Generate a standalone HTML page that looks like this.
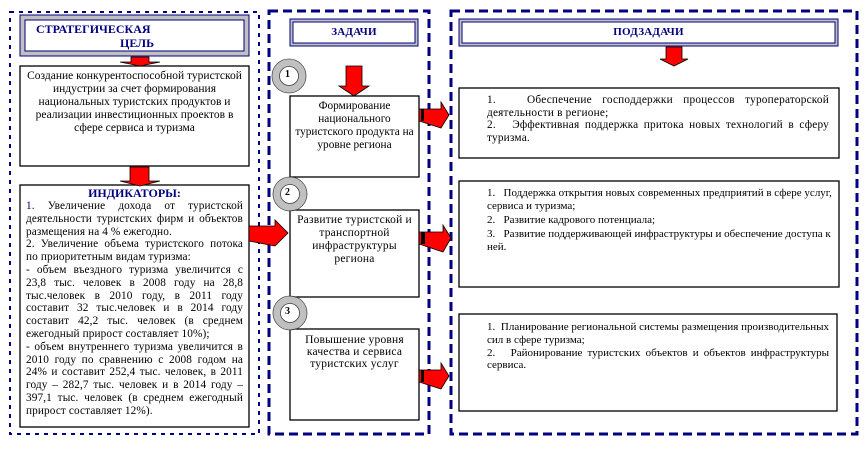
<!DOCTYPE html>
<html><head><meta charset="utf-8"><style>
body{margin:0;width:867px;height:458px;background:#fff;position:relative;overflow:hidden;font-family:"Liberation Serif","DejaVu Serif",serif;}
.t{position:absolute;color:#000;font-size:11px;line-height:12px;letter-spacing:0.2px;}
.j{text-align:justify;}
.c{text-align:center;}
</style></head><body>
<svg width="867" height="458" style="position:absolute;left:0;top:0">
<g fill="none" stroke="#000080">
<rect x="10" y="12" width="249" height="422" stroke-width="2" stroke-dasharray="4,5"/>
<rect x="269" y="11" width="160" height="423" stroke-width="3" stroke-dasharray="9,5"/>
<rect x="451" y="11" width="406" height="423" stroke-width="3" stroke-dasharray="9,5"/>
</g>
<g>
<rect x="20" y="15" width="229" height="41" fill="#c0c0c0" stroke="#000080"/>
<rect x="25" y="20" width="219" height="31" fill="#fff" stroke="#000080"/>
<rect x="290" y="19" width="128" height="27" fill="#c0c0c0" stroke="#000080"/>
<rect x="293" y="22" width="122" height="21" fill="#fff" stroke="#000080"/>
<rect x="459" y="19" width="379" height="27" fill="#c0c0c0" stroke="#000080"/>
<rect x="462" y="22" width="373" height="21" fill="#fff" stroke="#000080"/>
</g>
<g fill="#fff" stroke="#000" stroke-width="1.3">
<rect x="20" y="66" width="229" height="100"/>
<rect x="20" y="185" width="229" height="242"/>
<rect x="290" y="96" width="129" height="81"/>
<rect x="290" y="210" width="129" height="87"/>
<rect x="290" y="329" width="129" height="91"/>
<rect x="459" y="88" width="380" height="70"/>
<rect x="459" y="181" width="380" height="106"/>
<rect x="459" y="314" width="378" height="97"/>
</g>
<g fill="#fff" stroke="#c0c0c0" stroke-width="7">
<circle cx="289" cy="76" r="13"/>
<circle cx="290" cy="194" r="13"/>
<circle cx="290" cy="313" r="13"/>
</g>
<g fill="none" stroke="#444" stroke-width="0.8">
<circle cx="289" cy="76" r="17"/><circle cx="289" cy="76" r="9.5"/>
<circle cx="290" cy="194" r="17"/><circle cx="290" cy="194" r="9.5"/>
<circle cx="290" cy="313" r="17"/><circle cx="290" cy="313" r="9.5"/>
</g>
<g fill="#f00" stroke="#000" stroke-width="0.8">
<polygon points="131,57 149,57 149,62 160,62 140,66 120,62 131,62"/>
<polygon points="130,167 149,167 149,181 160,181 140,186 120,181 130,181"/>
<polygon points="346,66 362,66 362,86 369,86 354,96 339,86 346,86"/>
<polygon points="666,47 682,47 682,59 688,59 674,66 660,59 666,59"/>
<polygon points="419,109 441,109 441,102 449,115 441,128 419,121"/>
<polygon points="419,232 443,232 443,225 451,238 443,252 419,244"/>
<polygon points="419,370 441,370 441,363 449,376 441,389 419,382"/>
<polygon points="249,226 275,226 275,220 288,233 275,246 249,241"/>
</g>
<g fill="#000"><rect x="421" y="109" width="3" height="12"/><rect x="421" y="232" width="4" height="12"/><rect x="421" y="370" width="3" height="12"/></g>
</svg>
<div class="t" style="left:36px;top:22px;font-weight:bold;color:#000080;font-size:12px;line-height:14px;letter-spacing:0">СТРАТЕГИЧЕСКАЯ<br><span style="margin-left:84px">ЦЕЛЬ</span></div>
<div class="t c" style="left:293px;top:26px;width:122px;font-weight:bold;color:#000080;font-size:11px">ЗАДАЧИ</div>
<div class="t c" style="left:462px;top:26px;width:373px;font-weight:bold;color:#000080;font-size:11px">ПОДЗАДАЧИ</div>
<div class="t c" style="left:24px;top:70px;width:221px;line-height:13px;font-size:11.5px;letter-spacing:0">Создание конкурентоспособной туристской индустрии за счет формирования национальных туристских продуктов и реализации инвестиционных проектов в сфере сервиса и туризма</div>
<div class="t c" style="left:22px;top:187px;width:225px;font-weight:bold;color:#000080;font-size:12px;letter-spacing:0">ИНДИКАТОРЫ:</div>
<div class="t j" style="left:26px;top:200px;width:217px;line-height:12.8px;font-size:11.3px;letter-spacing:0.1px"><span style="color:#000080">1.</span> Увеличение дохода от туристской деятельности туристских фирм и объектов размещения на 4 % ежегодно.<br>2. Увеличение объема туристского потока по приоритетным видам туризма:<br>- объем въездного туризма увеличится с 23,8 тыс. человек в 2008 году на 28,8 тыс.человек в 2010 году, в 2011 году составит 32 тыс.человек и в 2014 году составит 42,2 тыс. человек (в среднем ежегодный прирост составляет 10%);<br>- объем внутреннего туризма увеличится в 2010 году по сравнению с 2008 годом на 24% и составит 252,4 тыс. человек, в 2011 году – 282,7 тыс. человек и в 2014 году – 397,1 тыс. человек (в среднем ежегодный прирост составляет 12%).</div>
<div class="t" style="left:285px;top:69px;font-size:10px;font-weight:bold">1</div>
<div class="t" style="left:285px;top:187px;font-size:10px;font-weight:bold">2</div>
<div class="t" style="left:285px;top:306px;font-size:10px;font-weight:bold">3</div>
<div class="t c" style="left:292px;top:100px;width:125px;line-height:13px;font-size:11.3px;letter-spacing:0">Формирование национального туристского продукта на уровне региона</div>
<div class="t c" style="left:296px;top:214px;width:117px;line-height:13px;font-size:11.5px">Развитие туристской и транспортной инфраструктуры региона</div>
<div class="t c" style="left:300px;top:334px;width:109px;line-height:12px;font-size:11.5px">Повышение уровня качества и сервиса туристских услуг</div>
<div class="t j" style="left:487px;top:94px;width:342px;line-height:12.5px;font-size:11.3px">1.&nbsp;&nbsp; Обеспечение господдержки процессов туроператорской деятельности в регионе;<br>2.&nbsp;&nbsp; Эффективная поддержка притока новых технологий в сферу туризма.</div>
<div class="t" style="left:487px;top:187px;width:348px;line-height:12.5px;font-size:11px;letter-spacing:0">1.&nbsp;&nbsp; Поддержка открытия новых современных предприятий в сфере услуг, сервиса и туризма;<br><span style="line-height:16px">2.&nbsp;&nbsp; Развитие кадрового потенциала;</span><br>3.&nbsp;&nbsp; Развитие поддерживающей инфраструктуры и обеспечение доступа к ней.</div>
<div class="t j" style="left:487px;top:321px;width:342px;line-height:12.8px;font-size:11px;letter-spacing:0">1.&nbsp; Планирование региональной системы размещения производительных сил в сфере туризма;<br>2.&nbsp;&nbsp; Районирование туристских объектов и объектов инфраструктуры сервиса.</div>
</body></html>
